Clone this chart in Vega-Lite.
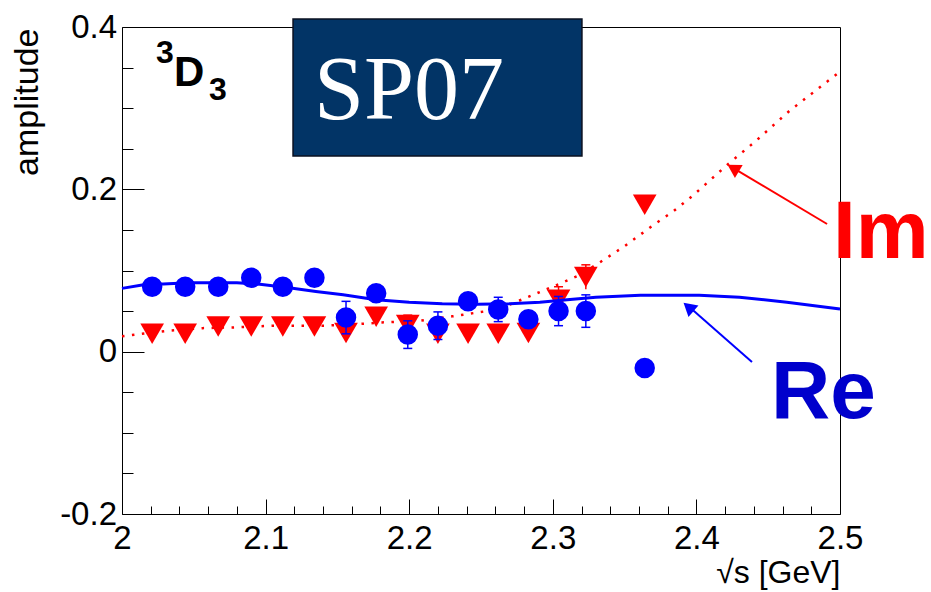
{
  "$schema": "https://vega.github.io/schema/vega-lite/v6.json",
  "width": 718,
  "height": 487,
  "autosize": {"type": "none"},
  "padding": {"left": 122, "top": 27, "right": 91, "bottom": 78},
  "background": "white",
  "config": {
    "view": {"stroke": null},
    "axis": {"domainColor": "black", "tickColor": "black", "labelColor": "black", "titleColor": "black", "labelFont": "Liberation Sans", "titleFont": "Liberation Sans", "grid": false, "titleFontWeight": "normal", "domainWidth": 1, "tickWidth": 1}
  },
  "datasets": {
    "re_pts": [
      {"sqrts": 2.021, "amp": 0.080}, {"sqrts": 2.044, "amp": 0.080}, {"sqrts": 2.067, "amp": 0.080},
      {"sqrts": 2.090, "amp": 0.091}, {"sqrts": 2.112, "amp": 0.080}, {"sqrts": 2.134, "amp": 0.091},
      {"sqrts": 2.156, "amp": 0.042}, {"sqrts": 2.177, "amp": 0.072}, {"sqrts": 2.199, "amp": 0.021},
      {"sqrts": 2.220, "amp": 0.032}, {"sqrts": 2.241, "amp": 0.062}, {"sqrts": 2.262, "amp": 0.052},
      {"sqrts": 2.283, "amp": 0.040}, {"sqrts": 2.304, "amp": 0.050}, {"sqrts": 2.323, "amp": 0.050},
      {"sqrts": 2.364, "amp": -0.020}
    ],
    "im_pts": [
      {"sqrts": 2.021, "amp": 0.022}, {"sqrts": 2.044, "amp": 0.022}, {"sqrts": 2.067, "amp": 0.031},
      {"sqrts": 2.090, "amp": 0.031}, {"sqrts": 2.112, "amp": 0.031}, {"sqrts": 2.134, "amp": 0.031},
      {"sqrts": 2.156, "amp": 0.023}, {"sqrts": 2.177, "amp": 0.043}, {"sqrts": 2.199, "amp": 0.033},
      {"sqrts": 2.220, "amp": 0.022}, {"sqrts": 2.241, "amp": 0.022}, {"sqrts": 2.262, "amp": 0.022},
      {"sqrts": 2.283, "amp": 0.023}, {"sqrts": 2.304, "amp": 0.064}, {"sqrts": 2.323, "amp": 0.092},
      {"sqrts": 2.364, "amp": 0.181}
    ],
    "re_err": [
      {"sqrts": 2.156, "lo": 0.022, "hi": 0.062}, {"sqrts": 2.199, "lo": 0.004, "hi": 0.038},
      {"sqrts": 2.220, "lo": 0.015, "hi": 0.049}, {"sqrts": 2.262, "lo": 0.037, "hi": 0.067},
      {"sqrts": 2.304, "lo": 0.032, "hi": 0.068}, {"sqrts": 2.323, "lo": 0.030, "hi": 0.070}
    ],
    "im_err": [
      {"sqrts": 2.199, "lo": 0.021, "hi": 0.045}, {"sqrts": 2.304, "lo": 0.048, "hi": 0.080},
      {"sqrts": 2.323, "lo": 0.077, "hi": 0.107}
    ],
    "re_curve": [
      {"sqrts": 2.000, "amp": 0.078}, {"sqrts": 2.014, "amp": 0.082}, {"sqrts": 2.047, "amp": 0.085},
      {"sqrts": 2.080, "amp": 0.085}, {"sqrts": 2.096, "amp": 0.083}, {"sqrts": 2.115, "amp": 0.079},
      {"sqrts": 2.135, "amp": 0.074}, {"sqrts": 2.154, "amp": 0.070}, {"sqrts": 2.177, "amp": 0.064},
      {"sqrts": 2.200, "amp": 0.061}, {"sqrts": 2.223, "amp": 0.059}, {"sqrts": 2.247, "amp": 0.0585},
      {"sqrts": 2.270, "amp": 0.059}, {"sqrts": 2.291, "amp": 0.061}, {"sqrts": 2.310, "amp": 0.064},
      {"sqrts": 2.330, "amp": 0.067}, {"sqrts": 2.361, "amp": 0.0695}, {"sqrts": 2.402, "amp": 0.0695},
      {"sqrts": 2.430, "amp": 0.067}, {"sqrts": 2.463, "amp": 0.061}, {"sqrts": 2.500, "amp": 0.0525}
    ],
    "im_curve": [
      {"sqrts": 2.000, "amp": 0.019}, {"sqrts": 2.033, "amp": 0.026}, {"sqrts": 2.056, "amp": 0.029},
      {"sqrts": 2.080, "amp": 0.030}, {"sqrts": 2.105, "amp": 0.032}, {"sqrts": 2.141, "amp": 0.032},
      {"sqrts": 2.164, "amp": 0.034}, {"sqrts": 2.181, "amp": 0.036}, {"sqrts": 2.207, "amp": 0.038},
      {"sqrts": 2.230, "amp": 0.0435}, {"sqrts": 2.254, "amp": 0.050}, {"sqrts": 2.270, "amp": 0.058},
      {"sqrts": 2.285, "amp": 0.069}, {"sqrts": 2.293, "amp": 0.075}, {"sqrts": 2.308, "amp": 0.086},
      {"sqrts": 2.317, "amp": 0.093}, {"sqrts": 2.331, "amp": 0.108}, {"sqrts": 2.350, "amp": 0.130},
      {"sqrts": 2.370, "amp": 0.156}, {"sqrts": 2.384, "amp": 0.173}, {"sqrts": 2.398, "amp": 0.193},
      {"sqrts": 2.422, "amp": 0.231}, {"sqrts": 2.441, "amp": 0.259}, {"sqrts": 2.465, "amp": 0.297},
      {"sqrts": 2.500, "amp": 0.345}
    ]
  },
  "resolve": {"axis": {"x": "independent", "y": "independent"}},
  "layer": [
    {
      "data": {"name": "im_pts"},
      "mark": {"type": "point", "shape": "triangle-down", "filled": true, "size": 560, "color": "#ff0000", "opacity": 1},
      "encoding": {
        "x": {"field": "sqrts", "type": "quantitative", "scale": {"domain": [2, 2.5], "nice": false, "zero": false},
          "axis": {"orient": "bottom", "values": [2, 2.1, 2.2, 2.3, 2.4, 2.5], "tickSize": -15, "labelPadding": 49, "labelBaseline": "alphabetic", "labelFontSize": 33, "labelFlush": false, "labelOverlap": false, "labelExpr": "format(datum.value, '.1~f')",
            "title": "√s [GeV]", "titleFontSize": 32, "titleAnchor": "end", "titleAlign": "right", "titleBaseline": "alphabetic", "titleX": 718, "titleY": 68}},
        "y": {"field": "amp", "type": "quantitative", "scale": {"domain": [-0.2, 0.4], "nice": false, "zero": false},
          "axis": {"orient": "left", "values": [-0.2, 0, 0.2, 0.4], "tickSize": -22, "labelPadding": 27.5, "labelFontSize": 33, "labelFlush": false, "labelOverlap": false, "labelBaseline": "middle", "labelAlign": "right", "labelExpr": "replace(format(datum.value, '.1~f'), '−', '-')",
            "title": "amplitude", "titleFontSize": 34, "titleAngle": 270, "titleAnchor": "end", "titleAlign": "right", "titleBaseline": "middle", "titleX": -95, "titleY": 1}}
      }
    },
    {
      "data": {"name": "im_err"},
      "mark": {"type": "rule", "color": "#ff0000", "strokeWidth": 1.5},
      "encoding": {
        "x": {"field": "sqrts", "type": "quantitative", "scale": {"domain": [2, 2.5], "nice": false, "zero": false}, "axis": null},
        "y": {"field": "lo", "type": "quantitative", "scale": {"domain": [-0.2, 0.4], "nice": false, "zero": false}, "axis": null},
        "y2": {"field": "hi"}
      }
    },
    {
      "data": {"name": "im_err"},
      "mark": {"type": "tick", "orient": "horizontal", "color": "#ff0000", "size": 9, "thickness": 1.5, "opacity": 1},
      "encoding": {
        "x": {"field": "sqrts", "type": "quantitative", "scale": {"domain": [2, 2.5], "nice": false, "zero": false}, "axis": null},
        "y": {"field": "hi", "type": "quantitative", "scale": {"domain": [-0.2, 0.4], "nice": false, "zero": false}, "axis": null}
      }
    },
    {
      "data": {"name": "im_curve"},
      "mark": {"type": "line", "color": "#ff0000", "strokeWidth": 2.5, "strokeDash": [2.5, 7.5]},
      "encoding": {
        "x": {"field": "sqrts", "type": "quantitative", "scale": {"domain": [2, 2.5], "nice": false, "zero": false},
          "axis": {"orient": "bottom", "values": [2.02, 2.04, 2.06, 2.08, 2.12, 2.14, 2.16, 2.18, 2.22, 2.24, 2.26, 2.28, 2.32, 2.34, 2.36, 2.38, 2.42, 2.44, 2.46, 2.48], "tickSize": -8, "labels": false, "domain": false, "title": null}},
        "y": {"field": "amp", "type": "quantitative", "scale": {"domain": [-0.2, 0.4], "nice": false, "zero": false},
          "axis": {"orient": "left", "values": [-0.15, -0.1, -0.05, 0.05, 0.1, 0.15, 0.25, 0.3, 0.35], "tickSize": -11, "labels": false, "domain": false, "title": null}}
      }
    },
    {
      "data": {"name": "re_curve"},
      "mark": {"type": "line", "color": "#0000ff", "strokeWidth": 3},
      "encoding": {
        "x": {"field": "sqrts", "type": "quantitative", "scale": {"domain": [2, 2.5], "nice": false, "zero": false},
          "axis": {"orient": "top", "ticks": false, "labels": false, "title": null, "domain": true}},
        "y": {"field": "amp", "type": "quantitative", "scale": {"domain": [-0.2, 0.4], "nice": false, "zero": false},
          "axis": {"orient": "right", "ticks": false, "labels": false, "title": null, "domain": true}}
      }
    },
    {
      "data": {"name": "re_err"},
      "mark": {"type": "rule", "color": "#0000ff", "strokeWidth": 1.5},
      "encoding": {
        "x": {"field": "sqrts", "type": "quantitative", "scale": {"domain": [2, 2.5], "nice": false, "zero": false}, "axis": null},
        "y": {"field": "lo", "type": "quantitative", "scale": {"domain": [-0.2, 0.4], "nice": false, "zero": false}, "axis": null},
        "y2": {"field": "hi"}
      }
    },
    {
      "data": {"name": "re_err"},
      "mark": {"type": "tick", "orient": "horizontal", "color": "#0000ff", "size": 9, "thickness": 1.5, "opacity": 1},
      "encoding": {
        "x": {"field": "sqrts", "type": "quantitative", "scale": {"domain": [2, 2.5], "nice": false, "zero": false}, "axis": null},
        "y": {"field": "hi", "type": "quantitative", "scale": {"domain": [-0.2, 0.4], "nice": false, "zero": false}, "axis": null}
      }
    },
    {
      "data": {"name": "re_err"},
      "mark": {"type": "tick", "orient": "horizontal", "color": "#0000ff", "size": 9, "thickness": 1.5, "opacity": 1},
      "encoding": {
        "x": {"field": "sqrts", "type": "quantitative", "scale": {"domain": [2, 2.5], "nice": false, "zero": false}, "axis": null},
        "y": {"field": "lo", "type": "quantitative", "scale": {"domain": [-0.2, 0.4], "nice": false, "zero": false}, "axis": null}
      }
    },
    {
      "data": {"name": "re_pts"},
      "mark": {"type": "point", "shape": "circle", "filled": true, "size": 420, "color": "#0000ff", "opacity": 1},
      "encoding": {
        "x": {"field": "sqrts", "type": "quantitative", "scale": {"domain": [2, 2.5], "nice": false, "zero": false}, "axis": null},
        "y": {"field": "amp", "type": "quantitative", "scale": {"domain": [-0.2, 0.4], "nice": false, "zero": false}, "axis": null}
      }
    },
    {
      "data": {"values": [{}]},
      "mark": {"type": "rect", "fill": "#023466", "stroke": "#0a1020", "strokeWidth": 1.5},
      "encoding": {
        "x": {"datum": 2.1191, "type": "quantitative", "scale": {"domain": [2, 2.5], "nice": false, "zero": false}, "axis": null},
        "x2": {"datum": 2.3203},
        "y": {"datum": 0.4099, "type": "quantitative", "scale": {"domain": [-0.2, 0.4], "nice": false, "zero": false}, "axis": null},
        "y2": {"datum": 0.2411}
      }
    },
    {
      "data": {"values": [{}]},
      "mark": {"type": "text", "text": "SP07", "font": "Liberation Serif", "fontSize": 90, "color": "white", "align": "left", "baseline": "alphabetic"},
      "encoding": {
        "x": {"datum": 2.1337, "type": "quantitative", "scale": {"domain": [2, 2.5], "nice": false, "zero": false}, "axis": null},
        "y": {"datum": 0.2867, "type": "quantitative", "scale": {"domain": [-0.2, 0.4], "nice": false, "zero": false}, "axis": null}
      }
    },
    {
      "data": {"values": [{}]},
      "mark": {"type": "text", "text": "3", "font": "Liberation Sans", "fontWeight": "bold", "fontSize": 32, "color": "black", "align": "left", "baseline": "alphabetic"},
      "encoding": {
        "x": {"datum": 2.0237, "type": "quantitative", "scale": {"domain": [2, 2.5], "nice": false, "zero": false}, "axis": null},
        "y": {"datum": 0.3556, "type": "quantitative", "scale": {"domain": [-0.2, 0.4], "nice": false, "zero": false}, "axis": null}
      }
    },
    {
      "data": {"values": [{}]},
      "mark": {"type": "text", "text": "D", "font": "Liberation Sans", "fontWeight": "bold", "fontSize": 42, "color": "black", "align": "left", "baseline": "alphabetic"},
      "encoding": {
        "x": {"datum": 2.0362, "type": "quantitative", "scale": {"domain": [2, 2.5], "nice": false, "zero": false}, "axis": null},
        "y": {"datum": 0.3273, "type": "quantitative", "scale": {"domain": [-0.2, 0.4], "nice": false, "zero": false}, "axis": null}
      }
    },
    {
      "data": {"values": [{}]},
      "mark": {"type": "text", "text": "3", "font": "Liberation Sans", "fontWeight": "bold", "fontSize": 32, "color": "black", "align": "left", "baseline": "alphabetic"},
      "encoding": {
        "x": {"datum": 2.0606, "type": "quantitative", "scale": {"domain": [2, 2.5], "nice": false, "zero": false}, "axis": null},
        "y": {"datum": 0.3101, "type": "quantitative", "scale": {"domain": [-0.2, 0.4], "nice": false, "zero": false}, "axis": null}
      }
    },
    {
      "data": {"values": [{}]},
      "mark": {"type": "rule", "color": "#ff0000", "strokeWidth": 2},
      "encoding": {
        "x": {"datum": 2.491, "type": "quantitative", "scale": {"domain": [2, 2.5], "nice": false, "zero": false}, "axis": null},
        "x2": {"datum": 2.424},
        "y": {"datum": 0.1573, "type": "quantitative", "scale": {"domain": [-0.2, 0.4], "nice": false, "zero": false}, "axis": null},
        "y2": {"datum": 0.228}
      }
    },
    {
      "data": {"values": [{}]},
      "mark": {"type": "point", "shape": "triangle-up", "filled": true, "size": 230, "color": "#ff0000", "opacity": 1, "angle": 300.8},
      "encoding": {
        "x": {"datum": 2.4256, "type": "quantitative", "scale": {"domain": [2, 2.5], "nice": false, "zero": false}, "axis": null},
        "y": {"datum": 0.2262, "type": "quantitative", "scale": {"domain": [-0.2, 0.4], "nice": false, "zero": false}, "axis": null}
      }
    },
    {
      "data": {"values": [{}]},
      "mark": {"type": "rule", "color": "#0000ff", "strokeWidth": 2},
      "encoding": {
        "x": {"datum": 2.4387, "type": "quantitative", "scale": {"domain": [2, 2.5], "nice": false, "zero": false}, "axis": null},
        "x2": {"datum": 2.3935},
        "y": {"datum": -0.0127, "type": "quantitative", "scale": {"domain": [-0.2, 0.4], "nice": false, "zero": false}, "axis": null},
        "y2": {"datum": 0.0575}
      }
    },
    {
      "data": {"values": [{}]},
      "mark": {"type": "point", "shape": "triangle-up", "filled": true, "size": 230, "color": "#0000ff", "opacity": 1, "angle": 311},
      "encoding": {
        "x": {"datum": 2.3945, "type": "quantitative", "scale": {"domain": [2, 2.5], "nice": false, "zero": false}, "axis": null},
        "y": {"datum": 0.0551, "type": "quantitative", "scale": {"domain": [-0.2, 0.4], "nice": false, "zero": false}, "axis": null}
      }
    },
    {
      "data": {"values": [{}]},
      "mark": {"type": "text", "text": "Im", "font": "Liberation Sans", "fontWeight": "bold", "fontSize": 82, "color": "#ff0000", "align": "left", "baseline": "alphabetic"},
      "encoding": {
        "x": {"datum": 2.4951, "type": "quantitative", "scale": {"domain": [2, 2.5], "nice": false, "zero": false}, "axis": null},
        "y": {"datum": 0.1154, "type": "quantitative", "scale": {"domain": [-0.2, 0.4], "nice": false, "zero": false}, "axis": null}
      }
    },
    {
      "data": {"values": [{}]},
      "mark": {"type": "text", "text": "Re", "font": "Liberation Sans", "fontWeight": "bold", "fontSize": 82, "color": "#0000cc", "align": "left", "baseline": "alphabetic"},
      "encoding": {
        "x": {"datum": 2.4519, "type": "quantitative", "scale": {"domain": [2, 2.5], "nice": false, "zero": false}, "axis": null},
        "y": {"datum": -0.0817, "type": "quantitative", "scale": {"domain": [-0.2, 0.4], "nice": false, "zero": false}, "axis": null}
      }
    }
  ]
}
